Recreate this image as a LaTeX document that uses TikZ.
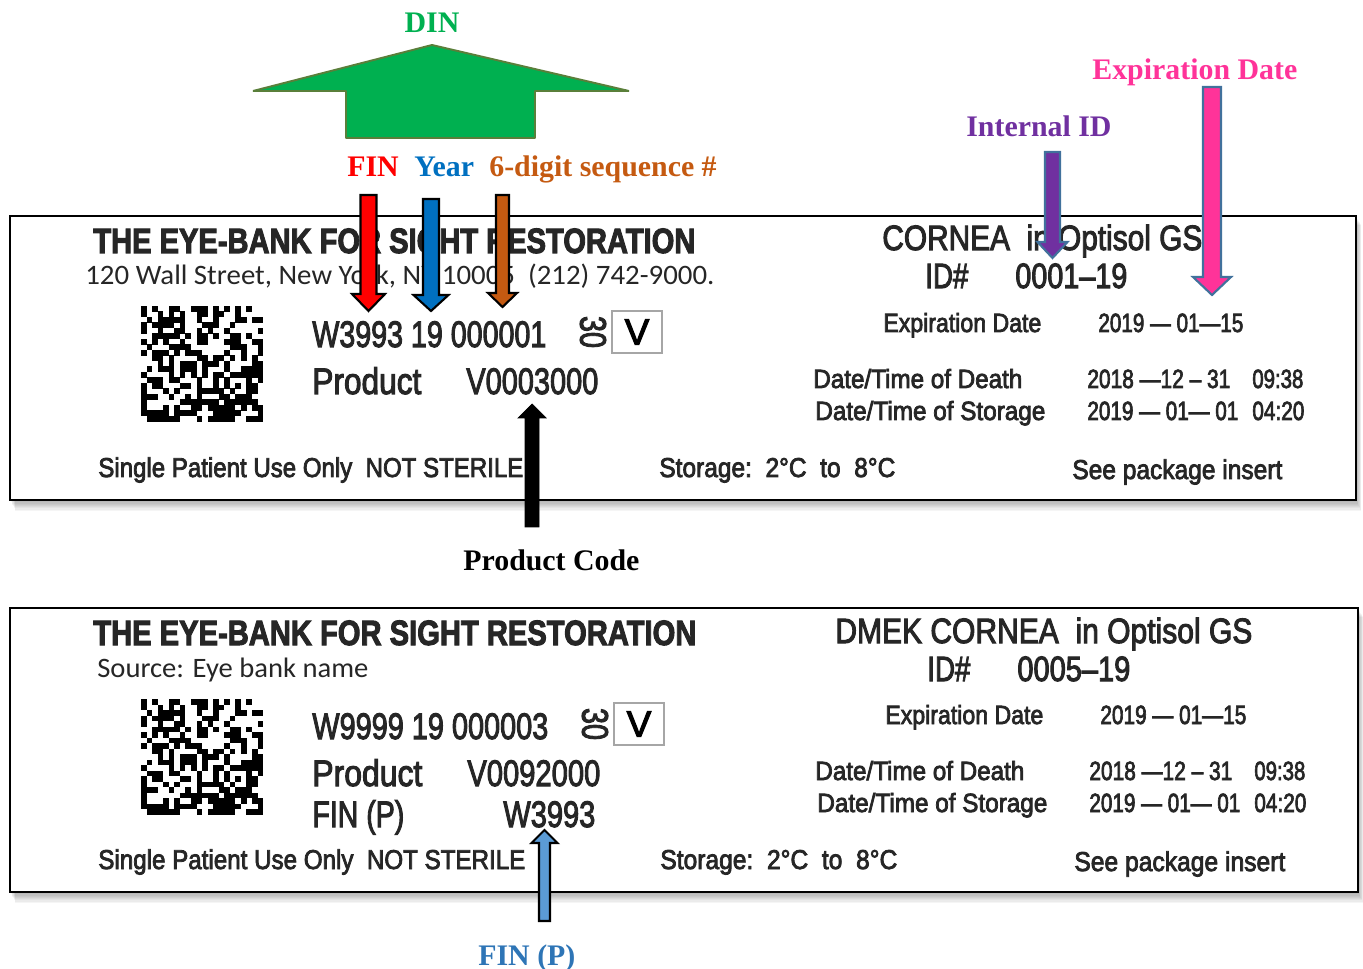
\documentclass[tikz,border=0pt]{standalone}
\usepackage{fontspec}
\usepackage{graphicx}
\setmainfont{Liberation Serif}
\newfontfamily\labfont[FakeBold=3]{Liberation Sans}
\newfontfamily\calfont{Carlito}
\usepackage{tikz}
\usetikzlibrary{calc}

\definecolor{labgray}{HTML}{262626}
\definecolor{boxgray}{HTML}{A6A6A6}
\definecolor{dingreen}{HTML}{00B050}
\definecolor{dinedge}{HTML}{5A7F3A}
\definecolor{finred}{HTML}{FF0000}
\definecolor{yearblue}{HTML}{0070C0}
\definecolor{seqorange}{HTML}{C55A11}
\definecolor{intpurple}{HTML}{7030A0}
\definecolor{exppink}{HTML}{FF3399}
\definecolor{arrowedge}{HTML}{41719C}
\definecolor{finpfill}{HTML}{5B9BD5}
\definecolor{finptext}{HTML}{2E75B6}

\newlength{\pxu}\setlength{\pxu}{0.02cm}
\newcommand{\fw}[2]{\resizebox{#1\pxu}{\height}{#2}}
\newcommand{\fs}[1]{\fontsize{#1}{#1}\selectfont}
% style, x, y tail, y head base, y tip, shaft half width, head half width
\newcommand{\blkarrow}[7]{\draw[#1] (#2-#6,#3) -- (#2+#6,#3) -- (#2+#6,#4) -- (#2+#7,#4)
  -- (#2,#5) -- (#2-#7,#4) -- (#2-#6,#4) -- cycle;}

\tikzset{qr/.pic={
    \pgfmathsetseed{1863}
    \foreach \i in {0,...,21}{
      \foreach \j in {0,...,20}{
        \pgfmathtruncatemacro\bit{rnd<0.52}
        \ifnum\bit=1 \fill (\i*5.55,\j*5.5) rectangle ++(5.6,5.55); \fi
      }}
  }}

\begin{document}
\begin{tikzpicture}[x=0.02cm, y=-0.02cm,
    lbl/.style={inner sep=0pt, anchor=base west, text=labgray},
    title/.style={lbl, font={\labfont\bfseries\fs{20pt}}},
    addr/.style={lbl, font={\calfont\fs{16pt}}},
    big/.style={lbl, font={\labfont\fs{21pt}}},
    head/.style={lbl, font={\labfont\fs{20pt}}},
    mid/.style={lbl, font={\labfont\fs{15.5pt}}},
    small/.style={lbl, font={\labfont\fs{15pt}}},
    vbox/.style={draw=boxgray, line width=0.8pt, minimum width=1cm, minimum height=0.84cm,
      inner sep=0pt, text=black, font={\labfont\fs{21pt}}},
    ann/.style={inner sep=0pt, anchor=base west, font={\bfseries\fs{17pt}}},
    card/.style={draw=black, line width=1.1pt, fill=white}]
  \useasboundingbox (0,0) rectangle (1363,969);

  % the two labels
  \foreach \k in {1,...,9}
    \fill[black, opacity=0.04] (10+\k*0.6,216+\k) rectangle (1356+\k*0.6,500+\k*1.2);
  \draw[card] (10,216) rectangle (1356,500);
  \foreach \k in {1,...,9}
    \fill[black, opacity=0.04] (10+\k*0.6,608+\k) rectangle (1358+\k*0.6,892+\k*1.2);
  \draw[card] (10,608) rectangle (1358,892);

  \node (titleA) at (93,253) [title] {\fw{602}{THE EYE-BANK FOR SIGHT RESTORATION}};
  \node (addrA) at (85,285) [addr] {\fw{629}{120 Wall Street, New York, NY 10005~~(212) 742-9000.}};
  \pic (qrA) at (141,306) {qr};
  \node (dinA) at (312,347) [big] {\fw{234}{W3993 19 000001}};
  \node (daysA) at (593,332) [big, anchor=center, rotate=-90] {\fw{32}{30}};
  \node (vA) at (637,332) [vbox] {V};
  \node (prodA) at (312,394) [big] {\fw{109}{Product}};
  \node (codeA) at (466,394) [big] {\fw{132}{V0003000}};
  \node (useA) at (98,477) [mid] {\fw{425}{Single Patient Use Only~~NOT STERILE}};
  \node (storeA) at (659,477) [mid] {\fw{236}{Storage:~~2°C~~to~~8°C}};
  \node (seeA) at (1072,479) [mid] {\fw{210}{See package insert}};
  \node (tissueA) at (882,250) [head] {\fw{320}{CORNEA~~in Optisol GS}};
  \node (idA) at (925,288) [head] {\fw{43}{ID\#}};
  \node (idnA) at (1015,288) [head] {\fw{112}{0001–19}};
  \node (expA) at (883,332) [small] {\fw{158}{Expiration Date}};
  \node (expdA) at (1098,332) [small] {\fw{145}{2019 — 01—15}};
  \node (deathA) at (813,388) [small] {\fw{209}{Date/Time of Death}};
  \node (deathdA) at (1087,388) [small] {\fw{143}{2018 —12 – 31}};
  \node (deathtA) at (1252,388) [small] {\fw{51}{09:38}};
  \node (storA) at (815,420) [small] {\fw{230}{Date/Time of Storage}};
  \node (stordA) at (1087,420) [small] {\fw{151}{2019 — 01— 01}};
  \node (stortA) at (1252,420) [small] {\fw{52}{04:20}};

  \node (titleB) at (93,645) [title] {\fw{603}{THE EYE-BANK FOR SIGHT RESTORATION}};
  \node (addrB) at (97,677) [addr] {\fw{271}{Source: Eye bank name}};
  \pic (qrB) at (141,699) {qr};
  \node (dinB) at (312,739) [big] {\fw{236}{W9999 19 000003}};
  \node (daysB) at (595,724) [big, anchor=center, rotate=-90] {\fw{32}{30}};
  \node (vB) at (639,724) [vbox] {V};
  \node (prodB) at (312,786) [big] {\fw{110}{Product}};
  \node (codeB) at (467,786) [big] {\fw{133}{V0092000}};
  \node (finpB) at (312,827) [big] {\fw{92}{FIN (P)}};
  \node (finpnB) at (503,827) [big] {\fw{92}{W3993}};
  \node (useB) at (98,869) [mid] {\fw{427}{Single Patient Use Only~~NOT STERILE}};
  \node (storeB) at (660,869) [mid] {\fw{237}{Storage:~~2°C~~to~~8°C}};
  \node (seeB) at (1074,871) [mid] {\fw{211}{See package insert}};
  \node (tissueB) at (835,643) [head] {\fw{417}{DMEK CORNEA~~in Optisol GS}};
  \node (idB) at (927,681) [head] {\fw{43}{ID\#}};
  \node (idnB) at (1017,681) [head] {\fw{113}{0005–19}};
  \node (expB) at (885,724) [small] {\fw{158}{Expiration Date}};
  \node (expdB) at (1100,724) [small] {\fw{146}{2019 — 01—15}};
  \node (deathB) at (815,780) [small] {\fw{209}{Date/Time of Death}};
  \node (deathdB) at (1089,780) [small] {\fw{143}{2018 —12 – 31}};
  \node (deathtB) at (1254,780) [small] {\fw{51}{09:38}};
  \node (storB) at (817,812) [small] {\fw{230}{Date/Time of Storage}};
  \node (stordB) at (1089,812) [small] {\fw{151}{2019 — 01— 01}};
  \node (stortB) at (1254,812) [small] {\fw{52}{04:20}};

  % callouts
  \node (dinlbl) at (432,33) [ann, anchor=base, text=dingreen] {DIN};
  \node (finlbl) at (347,177) [ann, text=finred] {FIN};
  \node (yearlbl) at (414,177) [ann, text=yearblue] {Year};
  \node (seqlbl) at (489,177) [ann, text=seqorange] {6-digit sequence \#};
  \node (intlbl) at (966,137) [ann, text=intpurple] {Internal ID};
  \node (explbl) at (1092,80) [ann, text=exppink] {Expiration Date};
  \node (pclbl) at (463,570) [ann, text=black] {Product Code};
  \node (finplbl) at (478,965) [ann, text=finptext] {FIN (P)};

  \draw[fill=dingreen, draw=dinedge, line width=1.1pt, line join=bevel]
    (346,138) -- (346,91) -- (253,91) -- (432,45) -- (629,91) -- (535,91) -- (535,138) -- cycle;
  \blkarrow{fill=finred, draw=black, line width=1.2pt}{368.5}{195}{294}{311}{8}{16.5}
  \blkarrow{fill=yearblue, draw=black, line width=1.2pt}{431}{199}{295}{311}{8}{17.5}
  \blkarrow{fill=seqorange, draw=black, line width=1.2pt}{502.5}{195}{293}{307}{6.5}{14.5}
  \blkarrow{fill=intpurple, draw=arrowedge, line width=1.2pt}{1052.5}{152}{242}{258}{7.5}{15}
  \blkarrow{fill=exppink, draw=arrowedge, line width=1.2pt}{1212}{87}{277}{295}{9}{19}
  \blkarrow{fill=black, draw=black}{532}{527}{418}{404}{7}{14}
  \blkarrow{fill=finpfill, draw=black, line width=1.2pt}{544.5}{921}{843}{830}{5.5}{13}
\end{tikzpicture}
\end{document}
